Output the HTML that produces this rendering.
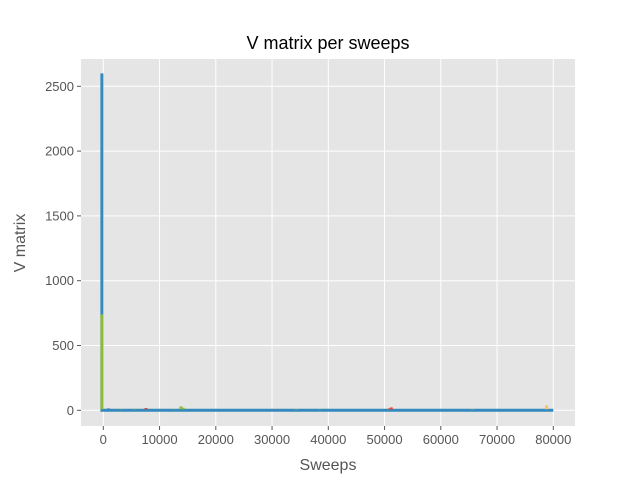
<!DOCTYPE html>
<html><head><meta charset="utf-8"><style>
body{margin:0;background:#fff;font-family:"Liberation Sans","DejaVu Sans",sans-serif}
</style></head><body>
<svg id="c" width="640" height="480" xmlns="http://www.w3.org/2000/svg">
<rect x="0" y="0" width="640" height="480" fill="#fff"/>
<rect x="81" y="59" width="494" height="367" fill="#e5e5e5"/>
<g id="grid"></g><g id="marks"></g><g id="axes"></g>
<text x="328" y="49" text-anchor="middle" font-size="18" fill="#000">V matrix per sweeps</text>
<text x="328" y="470" text-anchor="middle" font-size="16" fill="#555">Sweeps</text>
<text x="25" y="243" text-anchor="middle" font-size="16" fill="#555" transform="rotate(-90 25 243)">V matrix</text>
</svg>
<script>
const xTicks=[0,10000,20000,30000,40000,50000,60000,70000,80000];
const yTicks=[0,500,1000,1500,2000,2500];
const spikeX=[-250,900,3200,5600,7600,12500,13800,14200,23500,30700,34300,38500,50900,51200,55400,65600,78800];
const spikeV=[740,15,10,12,18,10,30,20,8,10,10,10,15,22,10,10,38];
const spikeC=["#8eba42","#348abd","#8eba42","#8eba42","#e24a33","#8eba42","#8eba42","#8eba42","#988ed5","#e24a33","#fbc15e","#8eba42","#e24a33","#e24a33","#348abd","#fbc15e","#fbc15e"];
const mainX=[-250,-250,80000];
const mainV=[2600,0,0];
const ns="http://www.w3.org/2000/svg";
const X=v=>103.3+v*0.005625, Y=v=>410.3-v*0.1296;
const grid=document.getElementById('grid'),marks=document.getElementById('marks'),axes=document.getElementById('axes');
function mk(tag,attrs,parent){const e=document.createElementNS(ns,tag);for(const k in attrs)e.setAttribute(k,attrs[k]);parent.appendChild(e);return e;}
xTicks.forEach(t=>{
  const g=mk('line',{x1:X(t),x2:X(t),y1:59,y2:426,stroke:'#fff','stroke-width':1},grid);
  
  
  mk('line',{x1:X(t),x2:X(t),y1:426,y2:430,stroke:'#555'},axes);
  const tx=mk('text',{x:X(t),y:444,'text-anchor':'middle','font-size':13,fill:'#555'},axes);
  tx.textContent=t;
  
  
});
yTicks.forEach(t=>{
  const g=mk('line',{x1:81,x2:575,y1:Y(t),y2:Y(t),stroke:'#fff','stroke-width':1},grid);
  
  
  mk('line',{x1:77,x2:81,y1:Y(t),y2:Y(t),stroke:'#555'},axes);
  const tx=mk('text',{x:74,y:Y(t)+4.5,'text-anchor':'end','font-size':13,fill:'#555'},axes);
  tx.textContent=t;
  
  
});
const pts=mainX.map((x,i)=>X(x)+','+Y(mainV[i])).join(' ');
const pl=mk('polyline',{points:pts,fill:'none',stroke:'#348abd','stroke-width':3,'stroke-linejoin':'miter'},marks);


spikeX.forEach((x,i)=>{
  const r=mk('rect',{x:X(x)-1.5,y:Y(spikeV[i]),width:3,height:Y(0)-Y(spikeV[i])-1,fill:spikeC[i]},marks);
  
  
});
</script>
</body></html>
